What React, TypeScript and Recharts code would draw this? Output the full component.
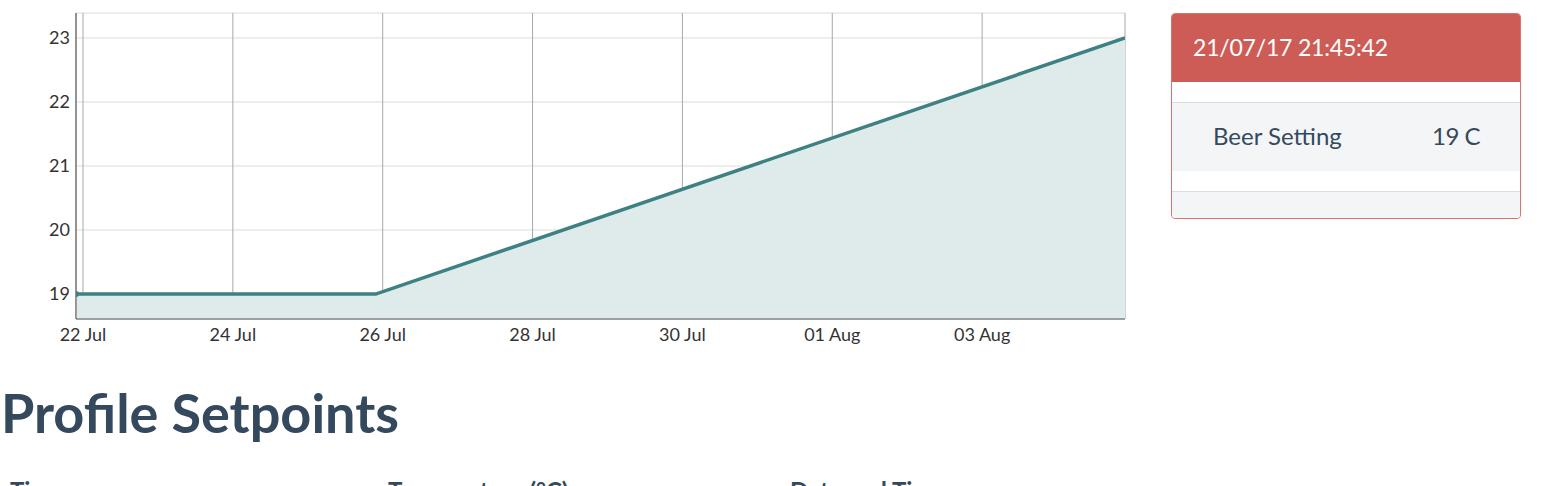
import React from "react";
import { AreaChart, Area, XAxis, YAxis, CartesianGrid } from "recharts";

const times: number[] = [
  Date.UTC(2017, 6, 21, 21, 45, 42),
  Date.UTC(2017, 6, 25, 21, 45, 42),
  Date.UTC(2017, 7, 4, 21, 45, 42),
];
const beerSetting: number[] = [19, 19, 23];
const xTicks: number[] = [
  Date.UTC(2017, 6, 22),
  Date.UTC(2017, 6, 24),
  Date.UTC(2017, 6, 26),
  Date.UTC(2017, 6, 28),
  Date.UTC(2017, 6, 30),
  Date.UTC(2017, 7, 1),
  Date.UTC(2017, 7, 3),
];
const yTicks: number[] = [19, 20, 21, 22, 23];
const monthNames = ["Jan", "Feb", "Mar", "Apr", "May", "Jun", "Jul", "Aug", "Sep", "Oct", "Nov", "Dec"];
const tooltipTitle = "21/07/17 21:45:42";
const seriesName = "Beer Setting";
const seriesValueText = "19 C";
const heading = "Profile Setpoints";
const tableHeaders = ["Time", "Temperature (°C)", "Date and Time"];

const data = times.map((t, i) => ({ t, v: beerSetting[i] }));

const fmtDate = (t: number) => {
  const d = new Date(t);
  const day = String(d.getUTCDate()).padStart(2, "0");
  return `${day} ${monthNames[d.getUTCMonth()]}`;
};

const LINE = "#3e8183";

const FirstDot = (props: any) => {
  const { cx, cy, index } = props;
  if (index !== 0) return <g key={`d${index}`} />;
  return <circle key={`d${index}`} cx={cx} cy={cy} r={3} fill={LINE} />;
};

export default function App() {
  return (
    <div
      style={{
        position: "fixed",
        left: 0,
        top: 0,
        width: 1543,
        height: 486,
        overflow: "hidden",
        background: "#fff",
        fontFamily: "Lato, 'Open Sans', sans-serif",
      }}
    >
      <div style={{ position: "absolute", left: 0, top: 0 }}>
        <AreaChart width={1140} height={350} data={data} margin={{ top: 13, right: 15, bottom: 1, left: 0 }}>
          <CartesianGrid horizontal={true} vertical={false} stroke="#dcdcdc" />
          <CartesianGrid horizontal={false} vertical={true} stroke="#a8a8a8" />
          <XAxis
            dataKey="t"
            type="number"
            scale="time"
            domain={[times[0], times[times.length - 1]]}
            ticks={xTicks}
            tickFormatter={fmtDate}
            tickLine={false}
            tickSize={0}
            tickMargin={9}
            height={30}
            stroke="#555"
            tick={{ fill: "#333", fontSize: 18, fontFamily: "Lato" }}
            allowDataOverflow
          />
          <YAxis
            type="number"
            domain={[18.61, 23.39]}
            ticks={yTicks}
            tickLine={false}
            tickSize={0}
            tickMargin={6}
            width={76}
            stroke="#555"
            tick={{ fill: "#333", fontSize: 18, fontFamily: "Lato" }}
            allowDataOverflow
          />
          <Area
            type="linear"
            dataKey="v"
            stroke={LINE}
            strokeWidth={3.5}
            fill="#deebea"
            fillOpacity={1}
            dot={FirstDot}
            activeDot={false}
            isAnimationActive={false}
          />
        </AreaChart>
      </div>

      <div
        style={{
          position: "absolute",
          left: 1171,
          top: 13,
          width: 348,
          height: 204,
          border: "1px solid #d9726c",
          borderRadius: 4,
          overflow: "hidden",
          background: "#fff",
          boxSizing: "content-box",
        }}
      >
        <div
          style={{
            height: 68,
            background: "#cd5c56",
            color: "#fff",
            fontSize: 23,
            lineHeight: "66px",
            paddingLeft: 21,
            letterSpacing: -0.2,
          }}
        >
          {tooltipTitle}
        </div>
        <div style={{ height: 20 }} />
        <div
          style={{
            height: 68,
            background: "#f4f5f7",
            borderTop: "1px solid #dddddd",
            position: "relative",
            color: "#34495e",
            fontSize: 24,
            lineHeight: "66px",
          }}
        >
          <span style={{ position: "absolute", left: 41 }}>{seriesName}</span>
          <span style={{ position: "absolute", left: 260, letterSpacing: -0.5 }}>{seriesValueText}</span>
        </div>
        <div style={{ height: 20 }} />
        <div style={{ height: 27, background: "#f4f5f7", borderTop: "1px solid #dddddd" }} />
      </div>

      <div
        style={{
          position: "absolute",
          left: 1,
          top: 381,
          fontSize: 54,
          fontWeight: 700,
          color: "#34495e",
          lineHeight: "64px",
          whiteSpace: "nowrap",
        }}
      >
        {heading}
      </div>

      {tableHeaders.map((h, i) => (
        <div
          key={h}
          style={{
            position: "absolute",
            left: [10, 388, 790][i],
            top: 476,
            fontSize: 24,
            fontWeight: 700,
            color: "#34495e",
            lineHeight: "30px",
            whiteSpace: "nowrap",
          }}
        >
          {h}
        </div>
      ))}
    </div>
  );
}
